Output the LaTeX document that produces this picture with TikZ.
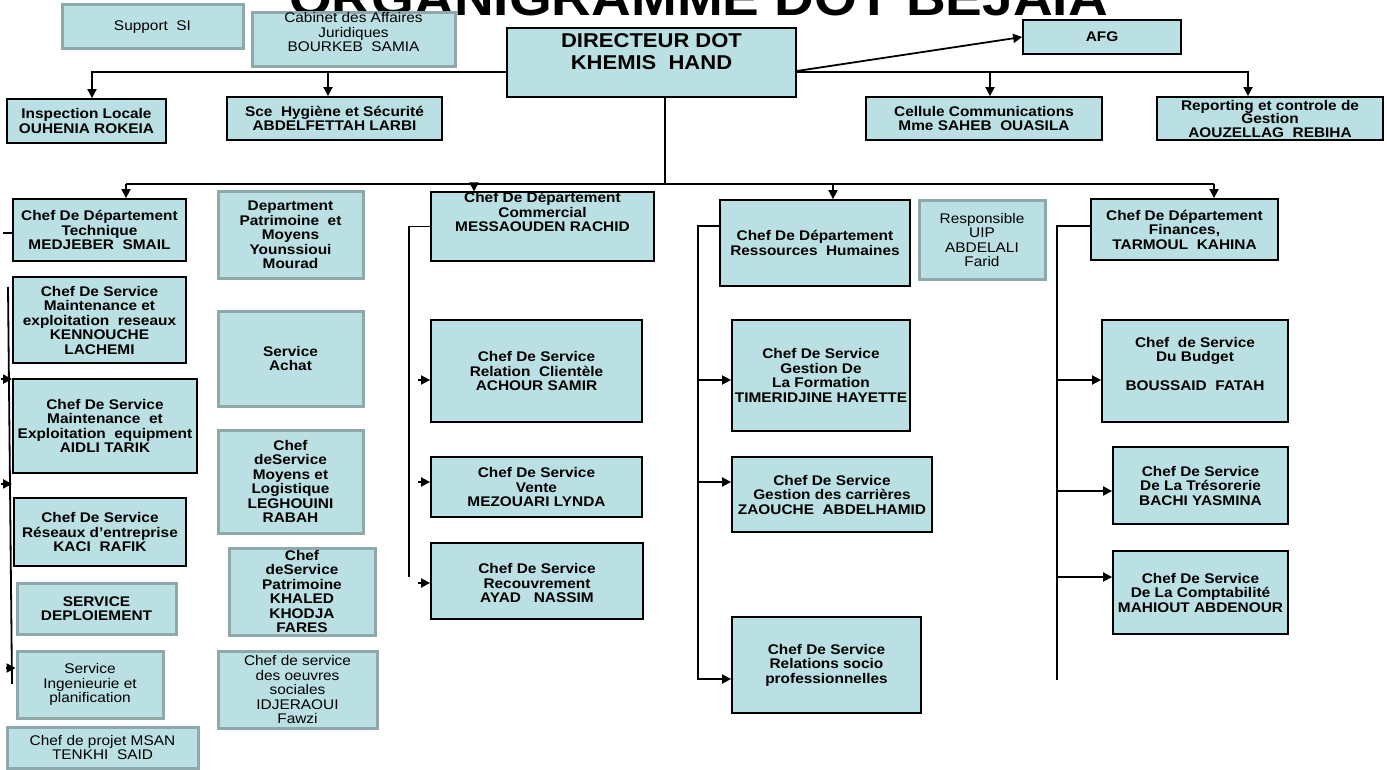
\documentclass[tikz,border=0pt]{standalone}
\usepackage{fontspec}
\setmainfont{Liberation Sans}[FakeStretch=1.1]
\usetikzlibrary{arrows.meta,calc,positioning}
\definecolor{boxfill}{HTML}{BBE0E3}
\definecolor{staffgray}{HTML}{8FA8AA}
\tikzset{
    unit/.style = {draw=black, line width=1.8pt, fill=boxfill, rectangle,
        inner sep=0pt, align=center,
        font=\fontsize{14}{14.5}\selectfont\bfseries},
    staff/.style = {unit, draw=staffgray, line width=3pt},
    plain/.style = {font=\fontsize{14}{14.5}\selectfont},
    dims/.style 2 args = {minimum width=#1, minimum height=#2},
    title/.style = {anchor=base, inner sep=0pt,
        font=\fontsize{50}{55}\selectfont\bfseries},
    link/.style = {draw, line width=1.8pt},
    arrow/.style = {draw, line width=1.8pt, -{Triangle[length=9pt,width=9pt]}}
}

\begin{document}
\begin{tikzpicture}[x=1pt, y=-1pt]
                \useasboundingbox (0,0) rectangle (1387,770);
                \clip (0,0) rectangle (1387,770);
                \node[title] (titre) at (698.5,16) {ORGANIGRAMME DOT BEJAIA};
                % direction
                \node[unit, dims={289}{69}, font=\fontsize{20}{22}\selectfont\bfseries] (dir) at (651.5,62.5) {DIRECTEUR DOT\\KHEMIS~~HAND\\\mbox{}};
                \node[staff, plain, dims={181}{44}] (supsi) at (152.5,27) {Support~~SI};
                \node[staff, plain, dims={203}{53}] (cabinet) at (353.5,39.5) {Cabinet des Affaires\\Juridiques\\BOURKEB~~SAMIA\\\mbox{}};
                \node[unit, dims={158}{34}] (afg) at (1102,37) {AFG};
                \node[unit, dims={159}{44}] (insp) at (86.5,121) {Inspection Locale\\OUHENIA ROKEIA};
                \node[unit, dims={215}{43}] (hyg) at (334.5,118.5) {Sce~~Hygiène et Sécurité\\ABDELFETTAH LARBI};
                \node[unit, dims={236}{43}] (cell) at (984,118.5) {Cellule Communications\\Mme SAHEB~~OUASILA};
                \node[unit, dims={226}{43}, font=\fontsize{14}{13.5}\selectfont\bfseries] (repo) at (1270,118.5) {Reporting et controle de\\Gestion\\AOUZELLAG~~REBIHA};
                % departement technique
                \node[unit, dims={173}{62}] (tech) at (99.5,230) {Chef De Département\\Technique\\MEDJEBER~~SMAIL};
                \node[unit, dims={173}{86}] (mres) at (99.5,320) {Chef De Service\\Maintenance et\\exploitation~~reseaux\\KENNOUCHE\\LACHEMI};
                \node[unit, dims={184}{94}] (mequ) at (105,426) {Chef De Service\\Maintenance~~et\\Exploitation~~equipment\\AIDLI TARIK};
                \node[unit, dims={172}{68}] (rent) at (100,532) {Chef De Service\\Réseaux d’entreprise\\KACI~~RAFIK};
                \node[staff, dims={159}{51}] (depl) at (96.5,608.5) {SERVICE\\DEPLOIEMENT};
                \node[staff, plain, dims={146}{67}] (ing) at (90,684.5) {Service\\Ingenieurie et\\planification};
                \node[staff, plain, dims={191}{41}] (msan) at (102.5,747.5) {Chef de projet MSAN\\TENKHI~~SAID};
                % patrimoine et moyens
                \node[staff, dims={145}{86}] (patri) at (290.5,235) {Department\\Patrimoine~~et\\Moyens\\Younssioui\\Mourad};
                \node[staff, dims={145}{95}] (achat) at (290.5,358.5) {Service\\Achat};
                \node[staff, dims={145}{103}] (moy) at (290.5,481.5) {Chef\\deService\\Moyens et\\Logistique\\LEGHOUINI\\RABAH};
                \node[staff, dims={146}{87}] (cpat) at (302,591.5) {Chef\\deService\\Patrimoine\\KHALED\\KHODJA\\FARES};
                \node[staff, plain, dims={159}{77}] (oeuv) at (297.5,689.5) {Chef de service\\des oeuvres\\sociales\\IDJERAOUI\\Fawzi};
                % commercial
                \node[unit, dims={223}{67}] (comm) at (542.5,226.5) {Chef De Département\\Commercial\\MESSAOUDEN RACHID\\\mbox{}\\\mbox{}};
                \node[unit, dims={211}{102}] (rcli) at (536.5,371) {Chef De Service\\Relation~~Clientèle\\ACHOUR SAMIR};
                \node[unit, dims={211}{60}] (vente) at (536.5,487) {Chef De Service\\Vente\\MEZOUARI LYNDA};
                \node[unit, dims={212}{76}] (recv) at (537,581) {\mbox{}\\Chef De Service\\Recouvrement\\AYAD~~~NASSIM};
                % ressources humaines
                \node[unit, dims={190}{86}] (rh) at (815,243) {Chef De Département\\Ressources~~Humaines};
                \node[staff, plain, dims={126}{78}] (uip) at (982,240) {Responsible\\UIP\\ABDELALI\\Farid};
                \node[unit, dims={178}{111}] (form) at (821,375.5) {Chef De Service\\Gestion De\\La Formation\\TIMERIDJINE HAYETTE};
                \node[unit, dims={200}{75}] (carr) at (832,494.5) {Chef De Service\\Gestion des carrières\\ZAOUCHE~~ABDELHAMID};
                \node[unit, dims={189}{96}] (socio) at (826.5,665) {Chef De Service\\Relations socio\\professionnelles};
                % finances
                \node[unit, dims={187}{61}] (fin) at (1184.5,229.5) {Chef De Département\\Finances,\\TARMOUL~~KAHINA};
                \node[unit, dims={186}{102}] (budg) at (1195,371) {Chef~~de Service\\Du Budget\\\mbox{}\\BOUSSAID~~FATAH\\\mbox{}};
                \node[unit, dims={175}{77}] (treso) at (1200.5,485.5) {Chef De Service\\De La Trésorerie\\BACHI YASMINA};
                \node[unit, dims={175}{83}] (compta) at (1200.5,592.5) {Chef De Service\\De La Comptabilité\\MAHIOUT ABDENOUR};
                % liaisons direction
                \coordinate (tbus) at (0,72);
                \coordinate (mbus) at (0,184);
                \draw [arrow] ([yshift=-9.5pt]dir.west) -| ([xshift=5.5pt]insp.north);
                \draw [arrow] ([xshift=-6.5pt]hyg.north |- tbus) -- ([xshift=-6.5pt]hyg.north);
                \draw [arrow] ([yshift=-9.5pt]dir.east) -| ([xshift=-22pt]repo.north);
                \draw [arrow] ([xshift=6pt]cell.north |- tbus) -- ([xshift=6pt]cell.north);
                \draw [arrow] ([yshift=-8.5pt]dir.east) -- (afg.west);
                \draw [link] ([xshift=13.5pt]dir.south) -- ([xshift=13.5pt]dir.south |- mbus);
                \draw [link] ([xshift=26.5pt]tech.north |- mbus) -- ([xshift=29.5pt]fin.north |- mbus);
                \draw [arrow] ([xshift=26.5pt]tech.north |- mbus) -- ([xshift=26.5pt]tech.north);
                \draw [arrow] ([xshift=-68.5pt]comm.north |- mbus) -- ([xshift=-68.5pt]comm.north);
                \draw [arrow] ([xshift=18pt]rh.north |- mbus) -- ([xshift=18pt]rh.north);
                \draw [arrow] ([xshift=29.5pt]fin.north |- mbus) -- ([xshift=29.5pt]fin.north);
                % technique
                \coordinate (lv1) at (8,287);
                \coordinate (lv2) at (12,684);
                \draw [link] ([yshift=-3pt]tech.west) -- ++(-9,0);
                \draw [link] (lv1) -- (lv2);
                \draw [arrow] ([xshift=-11pt,yshift=-1pt]mequ.north west) -- ([yshift=-1pt]mequ.north west);
                \draw [arrow] ([xshift=-11pt,yshift=-10pt]mequ.south west) -- ([yshift=-10pt]mequ.south west);
                \draw [arrow] ([xshift=-10pt,yshift=16.5pt]ing.west) -- ([yshift=16.5pt]ing.west);
                % commercial
                \coordinate (commv) at (409,577);
                \draw [link] (comm.west) -| (commv);
                \draw [arrow] ([xshift=-12pt,yshift=-9pt]rcli.west) -- ([yshift=-9pt]rcli.west);
                \draw [arrow] ([xshift=-12pt,yshift=5pt]vente.west) -- ([yshift=5pt]vente.west);
                \draw [arrow] ([xshift=-12pt,yshift=-2pt]recv.west) -- ([yshift=-2pt]recv.west);
                % ressources humaines
                \coordinate (rhv) at (698,680);
                \draw [link] ([yshift=17pt]rh.west) -| (rhv);
                \draw [arrow] ([xshift=-34pt,yshift=-4.5pt]form.west) -- ([yshift=-4.5pt]form.west);
                \draw [arrow] ([xshift=-34pt,yshift=12.5pt]carr.west) -- ([yshift=12.5pt]carr.west);
                \draw [arrow] ([xshift=-34pt,yshift=-14pt]socio.west) -- ([yshift=-14pt]socio.west);
                % finances
                \coordinate (finv) at (1057,680);
                \draw [link] ([yshift=3.5pt]fin.west) -| (finv);
                \draw [arrow] ([xshift=-45pt,yshift=-9pt]budg.west) -- ([yshift=-9pt]budg.west);
                \draw [arrow] ([xshift=-56pt,yshift=-5.5pt]treso.west) -- ([yshift=-5.5pt]treso.west);
                \draw [arrow] ([xshift=-56pt,yshift=15.5pt]compta.west) -- ([yshift=15.5pt]compta.west);
\end{tikzpicture}
\end{document}
